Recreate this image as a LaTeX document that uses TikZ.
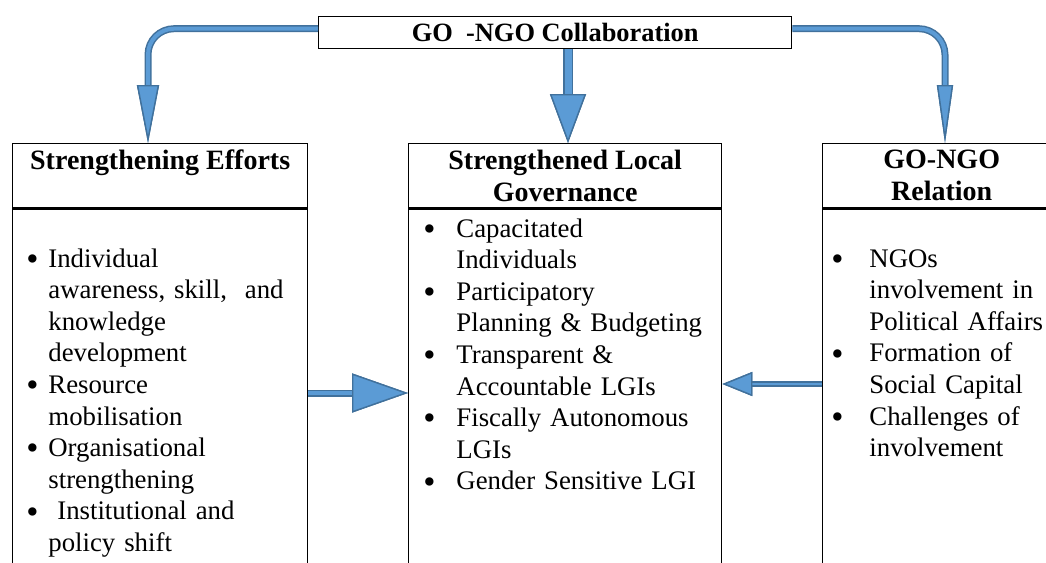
\documentclass[tikz,border=0pt]{standalone}
\usepackage{fontspec}
\setmainfont{Liberation Serif}
\usetikzlibrary{arrows.meta, positioning, calc}
\definecolor{arrowfill}{RGB}{91,155,213}
\definecolor{arrowline}{RGB}{65,113,156}
\newlength{\bw}
\newcommand{\itbul}{\makebox[\bw][l]{\raisebox{-1.6pt}{\scalebox{1.3}{\textbullet}}}}
\newcommand{\itind}{\hspace*{\bw}}

\begin{document}
\begin{tikzpicture}[x=0.5pt,y=-0.5pt,
    box/.style={draw,line width=0.7pt,inner sep=0pt,anchor=north west},
    head/.style={box,minimum height=32pt,align=center,font=\fontsize{14}{16}\selectfont\bfseries},
    body/.style={box,minimum height=200pt},
    list/.style={anchor=base west,inner sep=0pt,text width=170pt,align=left,font=\fontsize{13.4}{15.8}\selectfont},
    blk/.style 2 args={draw=arrowfill,line width=#1,rounded corners=13pt,preaction={draw=arrowline,line width=#2}}]
    \clip (0,0) rectangle (1046,563);

    % Top box
    \node[box,minimum width=236.5pt,minimum height=16pt,font=\fontsize{13.2}{16}\selectfont\bfseries] (ttl) at (318,16) {GO\ \ -NGO Collaboration};

    % Three column boxes
    \node[head,minimum width=147.5pt] (hdL) at (12,143) {Strengthening Efforts\\~};
    \node[body,minimum width=147.5pt,below=0pt of hdL] (bdL) {};
    \node[head,minimum width=156.5pt] (hdM) at (408,143) {Strengthened Local\\Governance};
    \node[body,minimum width=156.5pt,below=0pt of hdM] (bdM) {};
    \node[head,minimum width=119pt] (hdR) at (822,143) {GO-NGO\\Relation};
    \node[body,minimum width=119pt,below=0pt of hdR] (bdR) {};

    % Lists
    \node[list] (lsL) at (26,267) {\setlength{\bw}{11pt}%
        \itbul Individual\\
        \itind awareness, skill,\ \ and\\
        \itind knowledge\\
        \itind development\\
        \itbul Resource\\
        \itind mobilisation\\
        \itbul Organisational\\
        \itind strengthening\\
        \itbul\ Institutional and\\
        \itind policy shift};
    \node[list] (lsM) at (423,237) {\setlength{\bw}{16.5pt}%
        \itbul Capacitated\\
        \itind Individuals\\
        \itbul Participatory\\
        \itind Planning \& Budgeting\\
        \itbul Transparent \&\\
        \itind Accountable LGIs\\
        \itbul Fiscally Autonomous\\
        \itind LGIs\\
        \itbul Gender Sensitive LGI};
    \node[list] (lsR) at (831,267) {\setlength{\bw}{19pt}%
        \itbul NGOs\\
        \itind involvement in\\
        \itind Political Affairs\\
        \itbul Formation of\\
        \itind Social Capital\\
        \itbul Challenges of\\
        \itind involvement};

    % Arrows
    \coordinate (colL) at (148,0);
    \coordinate (colM) at (568,0);
    \coordinate (colR) at (945,0);
    \coordinate (rowA) at (0,393);
    \coordinate (rowB) at (0,384);
    \draw[blk={2pt}{3.5pt},-{Triangle[length=29pt,width=11pt,line width=0.7pt,color=arrowline,fill=arrowfill]}]
        ([yshift=2pt]ttl.west) -| (hdL.north -| colL);
    \draw[blk={3.5pt}{5pt},-{Triangle[length=24.5pt,width=18pt,line width=0.7pt,color=arrowline,fill=arrowfill]}]
        (ttl.south -| colM) -- (hdM.north -| colM);
    \draw[blk={2pt}{3.5pt},-{Triangle[length=29pt,width=8pt,line width=0.7pt,color=arrowline,fill=arrowfill]}]
        ([yshift=2pt]ttl.east) -| (hdR.north -| colR);
    \draw[blk={2pt}{3.5pt},-{Triangle[length=28pt,width=19.5pt,line width=0.7pt,color=arrowline,fill=arrowfill]}]
        (bdL.east |- rowA) -- (bdM.west |- rowA);
    \draw[blk={1.3pt}{2.6pt},-{Triangle[length=15pt,width=12pt,line width=0.7pt,color=arrowline,fill=arrowfill]}]
        (bdR.west |- rowB) -- (bdM.east |- rowB);
\end{tikzpicture}
\end{document}
